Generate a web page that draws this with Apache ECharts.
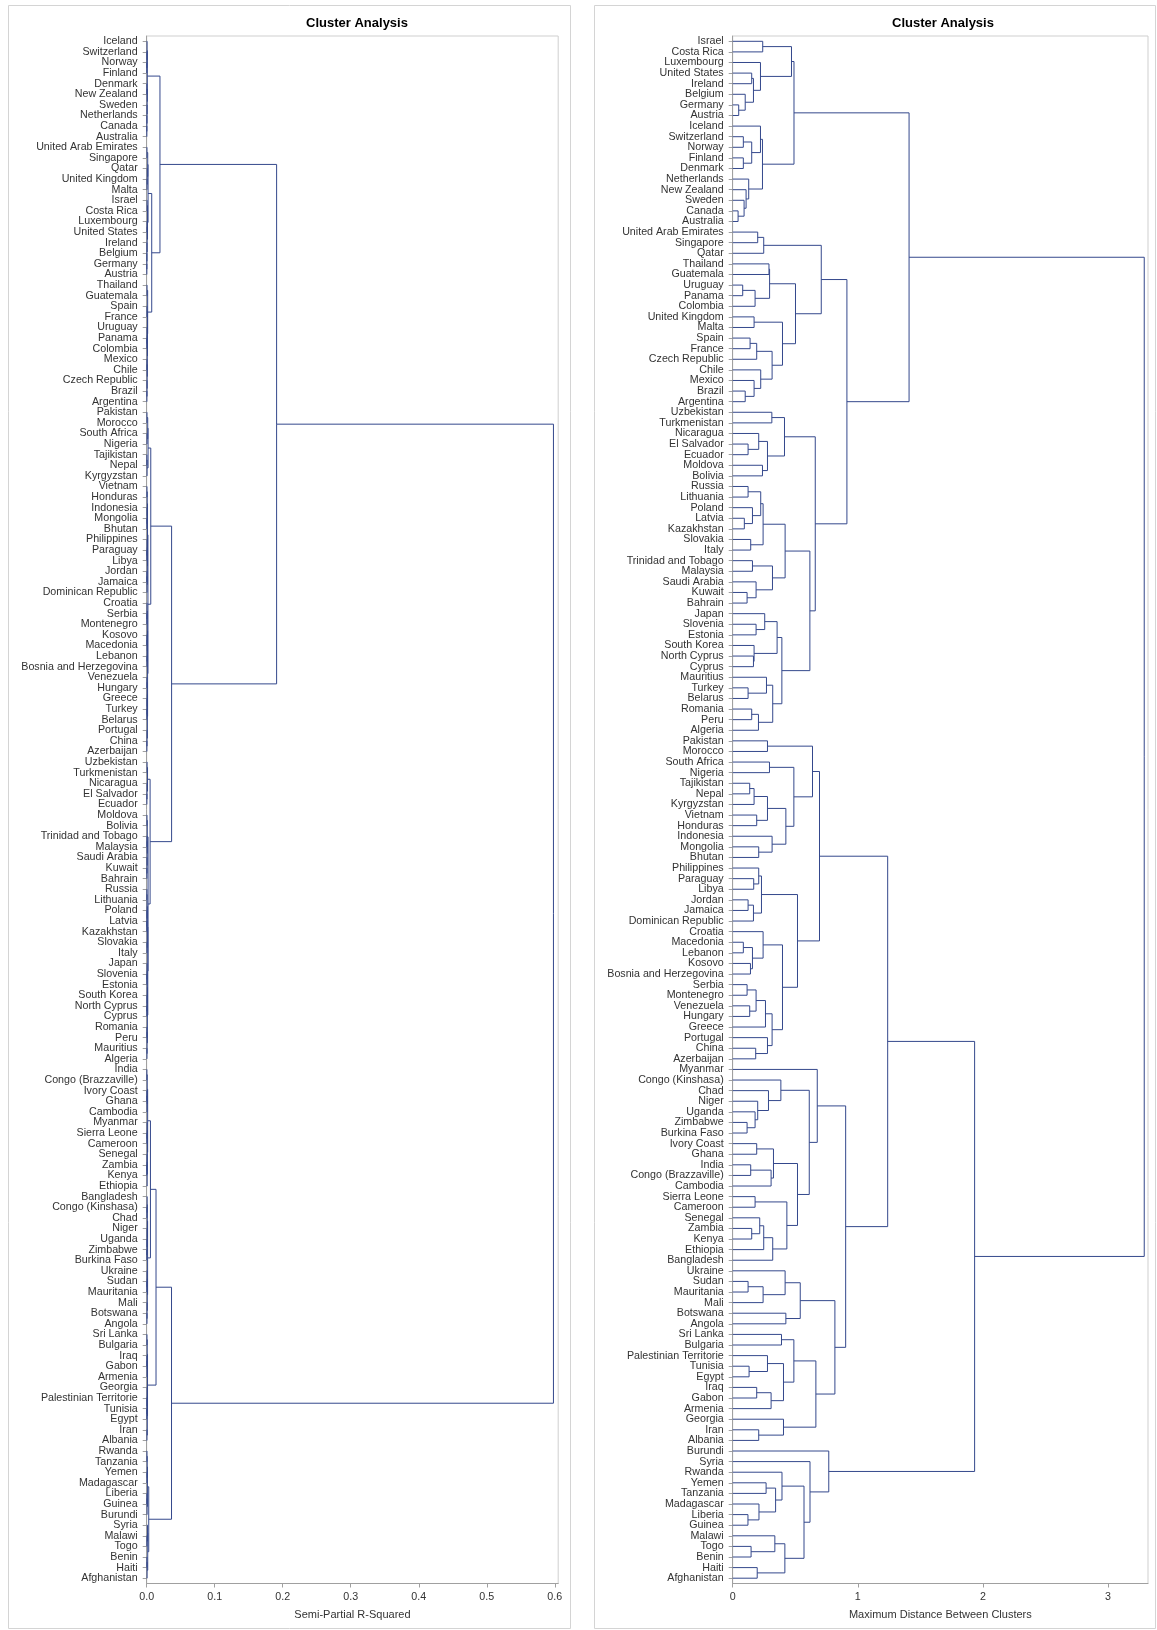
<!DOCTYPE html>
<html>
<head>
<meta charset="utf-8">
<script src="https://cdn.jsdelivr.net/npm/echarts@6/dist/echarts.min.js"></script>
<style>
html,body{margin:0;padding:0;background:#fff;}
#chart{width:1157px;height:1630px;}
</style>
</head>
<body>
<div id="chart"></div>
<script>
// ---------- categories (leaf order, top to bottom) ----------
const leftCountries = ["Iceland","Switzerland","Norway","Finland","Denmark","New Zealand","Sweden","Netherlands","Canada","Australia","United Arab Emirates","Singapore","Qatar","United Kingdom","Malta","Israel","Costa Rica","Luxembourg","United States","Ireland","Belgium","Germany","Austria","Thailand","Guatemala","Spain","France","Uruguay","Panama","Colombia","Mexico","Chile","Czech Republic","Brazil","Argentina","Pakistan","Morocco","South Africa","Nigeria","Tajikistan","Nepal","Kyrgyzstan","Vietnam","Honduras","Indonesia","Mongolia","Bhutan","Philippines","Paraguay","Libya","Jordan","Jamaica","Dominican Republic","Croatia","Serbia","Montenegro","Kosovo","Macedonia","Lebanon","Bosnia and Herzegovina","Venezuela","Hungary","Greece","Turkey","Belarus","Portugal","China","Azerbaijan","Uzbekistan","Turkmenistan","Nicaragua","El Salvador","Ecuador","Moldova","Bolivia","Trinidad and Tobago","Malaysia","Saudi Arabia","Kuwait","Bahrain","Russia","Lithuania","Poland","Latvia","Kazakhstan","Slovakia","Italy","Japan","Slovenia","Estonia","South Korea","North Cyprus","Cyprus","Romania","Peru","Mauritius","Algeria","India","Congo (Brazzaville)","Ivory Coast","Ghana","Cambodia","Myanmar","Sierra Leone","Cameroon","Senegal","Zambia","Kenya","Ethiopia","Bangladesh","Congo (Kinshasa)","Chad","Niger","Uganda","Zimbabwe","Burkina Faso","Ukraine","Sudan","Mauritania","Mali","Botswana","Angola","Sri Lanka","Bulgaria","Iraq","Gabon","Armenia","Georgia","Palestinian Territorie","Tunisia","Egypt","Iran","Albania","Rwanda","Tanzania","Yemen","Madagascar","Liberia","Guinea","Burundi","Syria","Malawi","Togo","Benin","Haiti","Afghanistan"];

const rightCountries = ["Israel","Costa Rica","Luxembourg","United States","Ireland","Belgium","Germany","Austria","Iceland","Switzerland","Norway","Finland","Denmark","Netherlands","New Zealand","Sweden","Canada","Australia","United Arab Emirates","Singapore","Qatar","Thailand","Guatemala","Uruguay","Panama","Colombia","United Kingdom","Malta","Spain","France","Czech Republic","Chile","Mexico","Brazil","Argentina","Uzbekistan","Turkmenistan","Nicaragua","El Salvador","Ecuador","Moldova","Bolivia","Russia","Lithuania","Poland","Latvia","Kazakhstan","Slovakia","Italy","Trinidad and Tobago","Malaysia","Saudi Arabia","Kuwait","Bahrain","Japan","Slovenia","Estonia","South Korea","North Cyprus","Cyprus","Mauritius","Turkey","Belarus","Romania","Peru","Algeria","Pakistan","Morocco","South Africa","Nigeria","Tajikistan","Nepal","Kyrgyzstan","Vietnam","Honduras","Indonesia","Mongolia","Bhutan","Philippines","Paraguay","Libya","Jordan","Jamaica","Dominican Republic","Croatia","Macedonia","Lebanon","Kosovo","Bosnia and Herzegovina","Serbia","Montenegro","Venezuela","Hungary","Greece","Portugal","China","Azerbaijan","Myanmar","Congo (Kinshasa)","Chad","Niger","Uganda","Zimbabwe","Burkina Faso","Ivory Coast","Ghana","India","Congo (Brazzaville)","Cambodia","Sierra Leone","Cameroon","Senegal","Zambia","Kenya","Ethiopia","Bangladesh","Ukraine","Sudan","Mauritania","Mali","Botswana","Angola","Sri Lanka","Bulgaria","Palestinian Territorie","Tunisia","Egypt","Iraq","Gabon","Armenia","Georgia","Iran","Albania","Burundi","Syria","Rwanda","Yemen","Tanzania","Madagascar","Liberia","Guinea","Malawi","Togo","Benin","Haiti","Afghanistan"];

// ---------- axis ticks ----------
const leftTicks = [0, 0.1, 0.2, 0.3, 0.4, 0.5, 0.6];
const rightTicks = [0, 1, 2, 3];
const leftAxisMax = 0.605;
const rightAxisMax = 3.32;

// ---------- merges: [childA, childB, height] (Semi-Partial R-Squared) ----------
const leftUA1 = [["Iceland",["Switzerland",["Norway","Finland",0.0002],0.0004],0.0006],[["Denmark","New Zealand",0.0003],["Sweden",["Netherlands",["Canada","Australia",0.0002],0.0003],0.0005],0.0007],0.0009];
const leftG11 = [["United Arab Emirates","Singapore",0.0004],["Qatar",["United Kingdom","Malta",0.0005],0.0008],0.0015];
const leftG16 = [["Israel","Costa Rica",0.0006],[["Luxembourg","United States",0.0005],["Ireland",["Belgium",["Germany","Austria",0.0002],0.0003],0.0004],0.0007],0.0012];
const leftG24 = [["Thailand","Guatemala",0.0005],[["Spain","France",0.0004],[["Uruguay",["Panama","Colombia",0.0003],0.0005],[["Mexico","Chile",0.0004],["Czech Republic",["Brazil","Argentina",0.0003],0.0005],0.0007],0.0009],0.0011],0.0014];
const leftUB1a = [[["Pakistan","Morocco",0.0004],["South Africa","Nigeria",0.0005],0.0015],[["Tajikistan","Nepal",0.0003],"Kyrgyzstan",0.0006],0.002];
const leftP1 = [[["Vietnam","Honduras",0.0004],["Indonesia",["Mongolia","Bhutan",0.0003],0.0005],0.0008],[["Philippines",["Paraguay","Libya",0.0003],0.0005],[["Jordan","Jamaica",0.0003],"Dominican Republic",0.0005],0.0009],0.0012];
const leftP2 = [[["Croatia",["Serbia","Montenegro",0.0003],0.0005],[["Kosovo","Macedonia",0.0003],["Lebanon","Bosnia and Herzegovina",0.0004],0.0006],0.0009],[[["Venezuela","Hungary",0.0003],["Greece",["Turkey","Belarus",0.0003],0.0005],0.0007],["Portugal",["China","Azerbaijan",0.0003],0.0005],0.001],0.0013];
const leftUB2a = [["Uzbekistan","Turkmenistan",0.0006],["Nicaragua",["El Salvador","Ecuador",0.0003],0.0005],0.0012];
const leftQ1 = [["Moldova","Bolivia",0.0004],[["Trinidad and Tobago","Malaysia",0.0004],["Saudi Arabia",["Kuwait","Bahrain",0.0003],0.0005],0.0007],0.0009];
const leftQ2 = [[[["Russia","Lithuania",0.0003],["Poland",["Latvia","Kazakhstan",0.0002],0.0004],0.0006],["Slovakia","Italy",0.0004],0.0009],[[["Japan",["Slovenia","Estonia",0.0003],0.0005],["South Korea",["North Cyprus","Cyprus",0.0002],0.0004],0.0008],[["Romania","Peru",0.0003],["Mauritius","Algeria",0.0004],0.0006],0.001],0.0016];
const leftL1a1 = [[["India","Congo (Brazzaville)",0.0003],[["Ivory Coast","Ghana",0.0003],"Cambodia",0.0005],0.0008],[["Myanmar",["Sierra Leone","Cameroon",0.0003],0.0006],[["Senegal",["Zambia","Kenya",0.0002],0.0004],"Ethiopia",0.0007],0.001],0.0014];
const leftL1a2 = [[["Bangladesh",["Congo (Kinshasa)","Chad",0.0004],0.0007],["Niger",["Uganda",["Zimbabwe","Burkina Faso",0.0002],0.0004],0.0006],0.0009],[["Ukraine",["Sudan","Mauritania",0.0003],0.0005],["Mali",["Botswana","Angola",0.0004],0.0006],0.0009],0.0013];
const leftL1b = [[["Sri Lanka","Bulgaria",0.0004],[["Iraq","Gabon",0.0003],"Armenia",0.0005],0.0008],[["Georgia",["Palestinian Territorie",["Tunisia","Egypt",0.0002],0.0004],0.0006],["Iran","Albania",0.0004],0.0009],0.0012];
const leftL2a = [[["Rwanda","Tanzania",0.0004],["Yemen","Madagascar",0.0004],0.0008],[["Liberia","Guinea",0.0003],"Burundi",0.0006],0.0011];
const leftL2b = [["Syria",["Malawi","Togo",0.0003],0.0012],[["Benin","Haiti",0.0003],"Afghanistan",0.0006],0.0015];

const leftUA = [leftUA1, [[leftG11, leftG16, 0.002], leftG24, 0.0074], 0.0195];
const leftUB = [[leftUB1a, [leftP1, leftP2, 0.0018], 0.006], [leftUB2a, [leftQ1, leftQ2, 0.002], 0.005], 0.0366];
const leftL = [[[leftL1a1, leftL1a2, 0.0055], leftL1b, 0.0137], [leftL2a, leftL2b, 0.003], 0.0365];
const leftTree = [[leftUA, leftUB, 0.191], leftL, 0.598];

// ---------- merges: [childA, childB, height] (Maximum Distance Between Clusters) ----------
const rightTop1 = [[["Israel","Costa Rica",0.24],["Luxembourg",[["United States","Ireland",0.152],["Belgium",["Germany","Austria",0.048],0.10],0.166],0.222],0.47],[["Iceland",[["Switzerland","Norway",0.085],["Finland","Denmark",0.085],0.152],0.222],["Netherlands",["New Zealand",["Sweden",["Canada","Australia",0.043],0.091],0.107],0.128],0.238],0.49];
const rightA = [[["United Arab Emirates","Singapore",0.2],"Qatar",0.248],[[["Thailand","Guatemala",0.29],[["Uruguay","Panama",0.08],"Colombia",0.179],0.295],[["United Kingdom","Malta",0.171],[[["Spain","France",0.139],"Czech Republic",0.192],["Chile",["Mexico",["Brazil","Argentina",0.1],0.171],0.224],0.315],0.398],0.502],0.708];
const rightD1 = [["Uzbekistan","Turkmenistan",0.313],[["Nicaragua",["El Salvador","Ecuador",0.123],0.208],["Moldova","Bolivia",0.238],0.278],0.414];
const rightE = [[[["Russia","Lithuania",0.123],["Poland",["Latvia","Kazakhstan",0.093],0.158],0.224],["Slovakia","Italy",0.144],0.243],[["Trinidad and Tobago","Malaysia",0.158],["Saudi Arabia",["Kuwait","Bahrain",0.115],0.187],0.318],0.419];
const rightF = [[["Japan",["Slovenia","Estonia",0.187],0.256],["South Korea",["North Cyprus","Cyprus",0.166],0.171],0.355],[["Mauritius",["Turkey","Belarus",0.123],0.27],[["Romania","Peru",0.152],"Algeria",0.206],0.32],0.393];
const rightG1 = [["Pakistan","Morocco",0.278],[["South Africa","Nigeria",0.294],[[[["Tajikistan","Nepal",0.136],"Kyrgyzstan",0.171],["Vietnam","Honduras",0.192],0.278],["Indonesia",["Mongolia","Bhutan",0.208],0.315],0.425],0.489],0.638];
const rightG2 = [[["Philippines",["Paraguay","Libya",0.168],0.208],[["Jordan","Jamaica",0.123],"Dominican Republic",0.166],0.23],[["Croatia",[["Macedonia","Lebanon",0.085],["Kosovo","Bosnia and Herzegovina",0.142],0.158],0.243],[[[["Serbia","Montenegro",0.115],["Venezuela","Hungary",0.136],0.187],"Greece",0.262],["Portugal",["China","Azerbaijan",0.184],0.278],0.315],0.398],0.518];
const rightH1 = ["Myanmar",[["Congo (Kinshasa)",["Chad",["Niger",["Uganda",["Zimbabwe","Burkina Faso",0.115],0.179],0.2],0.286],0.385],[[["Ivory Coast","Ghana",0.192],[["India","Congo (Brazzaville)",0.144],"Cambodia",0.307],0.326],[["Sierra Leone","Cameroon",0.179],[[["Senegal",["Zambia","Kenya",0.152],0.216],"Ethiopia",0.248],"Bangladesh",0.32],0.433],0.518],0.612],0.676];
const rightH2 = [[["Ukraine",[["Sudan","Mauritania",0.123],"Mali",0.243],0.419],["Botswana","Angola",0.425],0.54],[[["Sri Lanka","Bulgaria",0.39],[["Palestinian Territorie",["Tunisia","Egypt",0.131],0.278],[["Iraq","Gabon",0.192],"Armenia",0.307],0.406],0.489],["Georgia",["Iran","Albania",0.208],0.406],0.665],0.817];
const rightBot2 = ["Burundi",["Syria",[["Rwanda",[["Yemen","Tanzania",0.267],["Madagascar",["Liberia","Guinea",0.122],0.21],0.343],0.394],[["Malawi",["Togo","Benin",0.147],0.337],["Haiti","Afghanistan",0.196],0.417],0.57],0.618],0.768];

const rightTop = [rightTop1, [rightA, [rightD1, [rightE, rightF, 0.617], 0.66], 0.913], 1.41];
const rightBot = [[[rightG1, rightG2, 0.694], [rightH1, rightH2, 0.903], 1.239], rightBot2, 1.934];
const rightTree = [rightTop, rightBot, 3.29];

// ---------- flatten tree to merge segments ----------
function flatten(tree, order) {
  const idx = {};
  order.forEach((n, i) => { idx[n] = i; });
  const merges = [];
  function walk(node) {
    if (typeof node === 'string') {
      if (idx[node] === undefined) throw new Error('Unknown leaf: ' + node);
      return { y: idx[node], h: 0 };
    }
    const a = walk(node[0]);
    const b = walk(node[1]);
    merges.push({ ya: a.y, ha: a.h, yb: b.y, hb: b.h, h: node[2] });
    return { y: (a.y + b.y) / 2, h: node[2] };
  }
  walk(tree);
  return merges;
}
const leftMerges = flatten(leftTree, leftCountries);
const rightMerges = flatten(rightTree, rightCountries);

const LINE = '#34488c';
const AXIS = '#a0a0a0';
const TXT = '#333333';
const FONT = '"Liberation Sans", Arial, Helvetica, sans-serif';

function treeSeries(merges, xi, yi) {
  return {
    type: 'custom',
    coordinateSystem: 'cartesian2d',
    xAxisIndex: xi,
    yAxisIndex: yi,
    silent: true,
    clip: false,
    data: merges.map(m => [m.h, (m.ya + m.yb) / 2]),
    renderItem: function (params, api) {
      const m = merges[params.dataIndex];
      const pts = [
        api.coord([m.ha, m.ya]),
        api.coord([m.h, m.ya]),
        api.coord([m.h, m.yb]),
        api.coord([m.hb, m.yb])
      ];
      return {
        type: 'polyline',
        shape: { points: pts },
        style: { stroke: LINE, lineWidth: 1, fill: null }
      };
    }
  };
}

function catAxis(grid, data) {
  return {
    gridIndex: grid, type: 'category', data: data, inverse: true,
    axisLine: { show: true, onZero: false, lineStyle: { color: AXIS, width: 1 } },
    axisTick: { show: true, length: 4, alignWithLabel: true, lineStyle: { color: AXIS } },
    axisLabel: { interval: 0, fontSize: 10.7, color: TXT, margin: 9, fontFamily: FONT },
    splitLine: { show: false }
  };
}
function hiddenAxis(grid, n) {
  return { gridIndex: grid, type: 'value', min: -0.5, max: n - 0.5, inverse: true, show: false,
    axisLine: { show: false, onZero: false }, axisTick: { show: false }, axisLabel: { show: false }, splitLine: { show: false } };
}
function valAxis(grid, max, ticks, name, fmt) {
  return {
    gridIndex: grid, type: 'value', min: 0, max: max, position: 'bottom',
    interval: ticks[1] - ticks[0],
    name: name, nameLocation: 'middle', nameGap: 26,
    nameTextStyle: { fontSize: 11, color: TXT, fontFamily: FONT },
    axisLine: { show: true, onZero: false, lineStyle: { color: AXIS, width: 1 } },
    axisTick: { show: true, length: 4, lineStyle: { color: AXIS }, customValues: ticks },
    axisLabel: { fontSize: 10.7, color: TXT, margin: 8, fontFamily: FONT, customValues: ticks, formatter: fmt },
    splitLine: { show: false }
  };
}

const chart = echarts.init(document.getElementById('chart'), null, { renderer: 'canvas' });
chart.setOption({
  animation: false,
  backgroundColor: '#ffffff',
  textStyle: { fontFamily: FONT },
  title: [
    { text: 'Cluster Analysis', left: 352, top: 12, textAlign: 'center',
      textStyle: { fontSize: 13, fontWeight: 'bold', color: '#000', fontFamily: FONT } },
    { text: 'Cluster Analysis', left: 938, top: 12, textAlign: 'center',
      textStyle: { fontSize: 13, fontWeight: 'bold', color: '#000', fontFamily: FONT } }
  ],
  graphic: [
    { type: 'rect', shape: { x: 8.5, y: 5.5, width: 562, height: 1623 }, style: { fill: null, stroke: '#d4d4d4', lineWidth: 1 }, z: -10, silent: true },
    { type: 'rect', shape: { x: 594.5, y: 5.5, width: 561, height: 1623 }, style: { fill: null, stroke: '#d4d4d4', lineWidth: 1 }, z: -10, silent: true }
  ],
  grid: [
    { left: 146.7, top: 36, width: 411.5, height: 1547.5, show: true, borderColor: '#cfcfcf', borderWidth: 1, backgroundColor: 'transparent' },
    { left: 732.7, top: 36, width: 415.3, height: 1547.5, show: true, borderColor: '#cfcfcf', borderWidth: 1, backgroundColor: 'transparent' }
  ],
  xAxis: [
    valAxis(0, leftAxisMax, leftTicks, 'Semi-Partial R-Squared', v => v.toFixed(1)),
    valAxis(1, rightAxisMax, rightTicks, 'Maximum Distance Between Clusters', v => String(Math.round(v)))
  ],
  yAxis: [
    catAxis(0, leftCountries),
    hiddenAxis(0, leftCountries.length),
    catAxis(1, rightCountries),
    hiddenAxis(1, rightCountries.length)
  ],
  series: [
    treeSeries(leftMerges, 0, 1),
    treeSeries(rightMerges, 1, 3)
  ]
});
</script>
</body>
</html>
